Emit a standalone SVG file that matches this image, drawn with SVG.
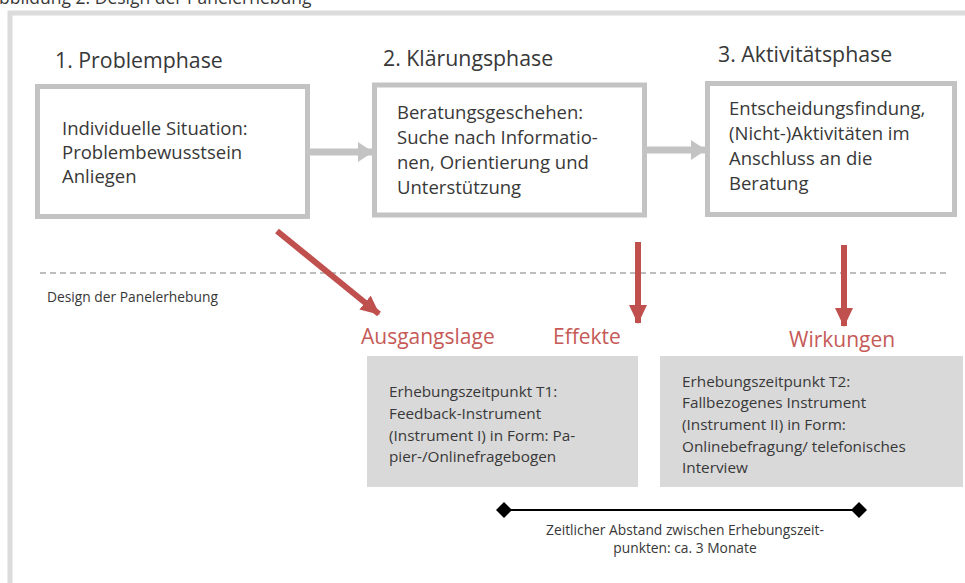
<svg xmlns="http://www.w3.org/2000/svg" width="965" height="583" viewBox="0 0 965 583">
<style>
text{font-family:"Open Sans","Liberation Sans",Arial,sans-serif;fill:#383838}
.ph{font-size:21.3px}
.bt{font-size:18.5px}
.rl{font-size:21px;fill:#c55a57}
.gt{font-size:15.3px}
.sm{font-size:13.8px}
.box{fill:#fff;stroke:#c3c3c3;stroke-width:5}
.gbox{fill:#d9d9d9}
.garr{stroke:#c3c3c3;stroke-width:7;fill:none}
.rarr{stroke:#c0504d;stroke-width:6;fill:none}
</style>
<defs>
<marker id="gh" markerUnits="userSpaceOnUse" markerWidth="16" markerHeight="20" refX="14" refY="10" orient="auto"><path d="M0,0 L15,10 L0,20 Z" fill="#c3c3c3"/></marker>
<marker id="rh" markerUnits="userSpaceOnUse" markerWidth="20" markerHeight="20" refX="18" refY="9" orient="auto"><path d="M0,0 L19,9 L0,18 Z" fill="#c0504d"/></marker>
<marker id="dm" markerUnits="userSpaceOnUse" markerWidth="16" markerHeight="16" refX="8" refY="8" orient="auto"><path d="M0,8 L8,0 L16,8 L8,16 Z" fill="#000"/></marker>
</defs>
<rect width="965" height="583" fill="#fff"/>
<g id="frame">
<path d="M10,583 L10,13 L965,13" fill="none" stroke="#dcdcdc" stroke-width="5"/>
</g>
<text id="title" x="-12" y="4" style="font-size:17.5px">Abbildung 2: Design der Panelerhebung</text>
<g id="phase1">
<text class="ph" x="55" y="68">1. Problemphase</text>
<rect class="box" x="37.5" y="86.5" width="270" height="130"/>
<text class="bt" x="62" y="135">Individuelle Situation:</text>
<text class="bt" x="62" y="159">Problembewusstsein</text>
<text class="bt" x="62" y="183">Anliegen</text>
</g>
<g id="phase2">
<text class="ph" x="383" y="66">2. Klärungsphase</text>
<rect class="box" x="374.5" y="85" width="270" height="130"/>
<text class="bt" x="397" y="119">Beratungsgeschehen:</text>
<text class="bt" x="397" y="144">Suche nach Informatio-</text>
<text class="bt" x="397" y="169">nen, Orientierung und</text>
<text class="bt" x="397" y="194">Unterstützung</text>
</g>
<g id="phase3">
<text class="ph" x="718" y="62">3. Aktivitätsphase</text>
<rect class="box" x="707.5" y="83.5" width="247" height="131"/>
<text class="bt" x="729" y="115">Entscheidungsfindung,</text>
<text class="bt" x="729" y="140">(Nicht-)Aktivitäten im</text>
<text class="bt" x="729" y="165">Anschluss an die</text>
<text class="bt" x="729" y="190">Beratung</text>
</g>
<g id="design-label">
<text class="sm" x="47" y="302">Design der Panelerhebung</text>
</g>
<g id="t1">
<rect class="gbox" x="367" y="356" width="271" height="131"/>
<text class="gt" x="389" y="397">Erhebungszeitpunkt T1:</text>
<text class="gt" x="389" y="419">Feedback-Instrument</text>
<text class="gt" x="389" y="441">(Instrument I) in Form: Pa-</text>
<text class="gt" x="389" y="462">pier-/Onlinefragebogen</text>
</g>
<g id="t2">
<rect class="gbox" x="660" y="356" width="303" height="131"/>
<text class="gt" x="682" y="387">Erhebungszeitpunkt T2:</text>
<text class="gt" x="682" y="408">Fallbezogenes Instrument</text>
<text class="gt" x="682" y="430">(Instrument II) in Form:</text>
<text class="gt" x="682" y="452">Onlinebefragung/ telefonisches</text>
<text class="gt" x="682" y="473">Interview</text>
</g>
<g id="labels">
<text class="rl" x="361" y="344">Ausgangslage</text>
<text class="rl" x="553" y="344">Effekte</text>
<text class="rl" x="789" y="347">Wirkungen</text>
</g>
<g id="connectors">
<line x1="40" y1="273" x2="950" y2="273" stroke="#bdbdbd" stroke-width="2" stroke-dasharray="6,4"/>
<line class="garr" x1="310" y1="152" x2="372" y2="152" marker-end="url(#gh)"/>
<line class="garr" x1="647" y1="150" x2="705" y2="150" marker-end="url(#gh)"/>
<line class="rarr" x1="277" y1="231" x2="379" y2="314" marker-end="url(#rh)"/>
<line class="rarr" x1="638" y1="242" x2="638" y2="323" marker-end="url(#rh)"/>
<line class="rarr" x1="844" y1="245" x2="844" y2="326" marker-end="url(#rh)"/>
<line x1="504" y1="510" x2="859" y2="510" stroke="#000" stroke-width="2" marker-start="url(#dm)" marker-end="url(#dm)"/>
</g>
<g id="timeline-caption">
<text class="sm" x="685" y="535" text-anchor="middle">Zeitlicher Abstand zwischen Erhebungszeit-</text>
<text class="sm" x="685" y="553" text-anchor="middle">punkten: ca. 3 Monate</text>
</g>
</svg>
